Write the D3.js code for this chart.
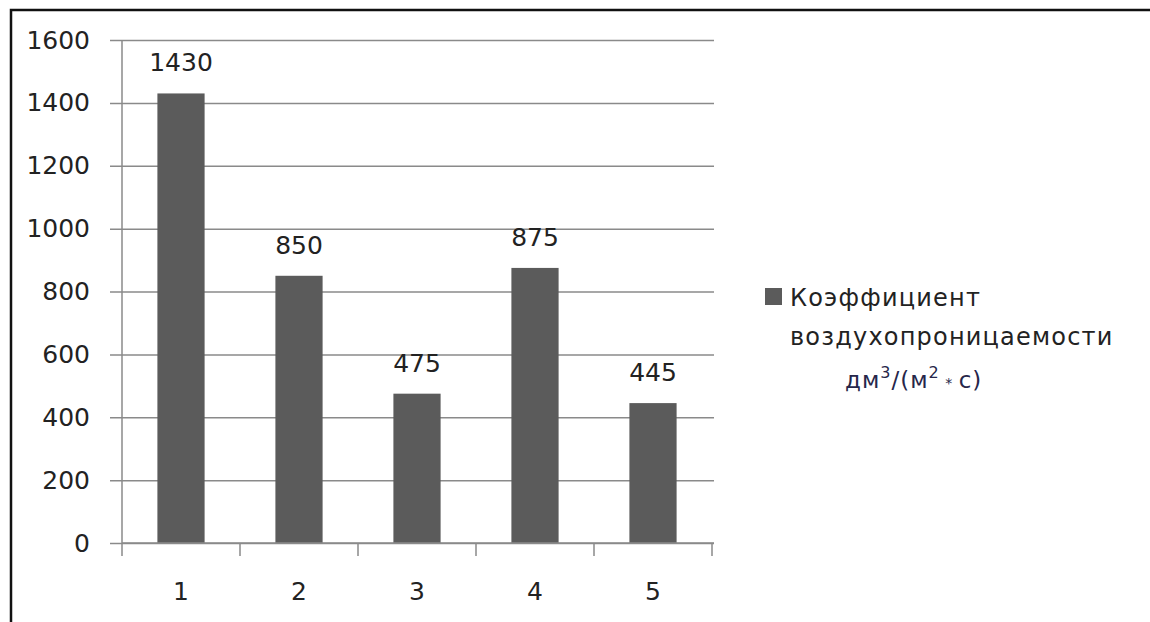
<!DOCTYPE html>
<meta charset="utf-8">
<script src="https://d3js.org/d3.v7.min.js"></script>
<style>
	body { margin: 0; background: #fff; }
	text { font-family: "DejaVu Sans", Verdana, sans-serif; }
</style>
<div id="my_dataviz"></div>
<script>
	// Chart data
	var categories = ["1", "2", "3", "4", "5"];
	var values = [1430, 850, 475, 875, 445];
	var y_ticks = [0, 200, 400, 600, 800, 1000, 1200, 1400, 1600];
	var legend_lines = ["Коэффициент", "воздухопроницаемости"];

	var width = 1150, height = 622;
	var margin = {left: 122, right: 438, top: 40, bottom: 79};

	var svg = d3.select("#my_dataviz")
		.append("svg")
		.attr("width", width)
		.attr("height", height);

	// Outer frame (top and left only are visible)
	svg.append("path")
		.attr("d", "M11," + height + " L11,10 L" + width + ",10")
		.attr("fill", "none")
		.attr("stroke", "#111")
		.attr("stroke-width", 2.5);

	var x = d3.scaleBand()
		.domain(categories)
		.range([margin.left, width - margin.right])
		.paddingInner(0.6)
		.paddingOuter(0.3);

	var y = d3.scaleLinear()
		.domain([0, 1600])
		.range([height - margin.bottom, margin.top]);

	// Gridlines + y ticks
	svg.append("g")
		.attr("transform", "translate(" + margin.left + ",0)")
		.call(d3.axisLeft(y)
			.tickValues(y_ticks)
			.tickFormat(d3.format("d"))
			.tickSize(-(width - margin.right - margin.left + 2))
			.tickSizeOuter(0)
			.tickPadding(32))
		.call(g => g.select(".domain").remove())
		.call(g => g.selectAll(".tick line")
			.attr("x1", -12)
			.attr("stroke", "#8a8a8a")
			.attr("stroke-width", 1.5))
		.call(g => g.selectAll(".tick text")
			.attr("fill", "#222")
			.attr("font-size", 25));

	// Y axis line
	svg.append("line")
		.attr("x1", margin.left).attr("x2", margin.left)
		.attr("y1", y(1600)).attr("y2", y(0))
		.attr("stroke", "#8a8a8a")
		.attr("stroke-width", 1.5);

	// Bars
	svg.append("g")
		.selectAll("rect")
		.data(values)
		.join("rect")
		.attr("x", (d, i) => x(categories[i]))
		.attr("width", x.bandwidth())
		.attr("y", d => y(d))
		.attr("height", d => y(0) - y(d))
		.attr("fill", "#5b5b5b");

	// Value labels
	svg.append("g")
		.selectAll("text")
		.data(values)
		.join("text")
		.attr("x", (d, i) => x(categories[i]) + x.bandwidth() / 2)
		.attr("y", d => y(d) - 22)
		.attr("text-anchor", "middle")
		.attr("font-size", 25)
		.attr("fill", "#222")
		.text(d => d);

	// X axis with ticks between categories
	var x_axis = svg.append("g");
	x_axis.append("line")
		.attr("x1", margin.left).attr("x2", width - margin.right + 2)
		.attr("y1", y(0)).attr("y2", y(0))
		.attr("stroke", "#8a8a8a")
		.attr("stroke-width", 1.5);
	x_axis.selectAll(".sep")
		.data(d3.range(categories.length + 1))
		.join("line")
		.attr("class", "sep")
		.attr("x1", i => margin.left + i * (width - margin.right - margin.left) / categories.length)
		.attr("x2", i => margin.left + i * (width - margin.right - margin.left) / categories.length)
		.attr("y1", y(0)).attr("y2", y(0) + 13)
		.attr("stroke", "#8a8a8a")
		.attr("stroke-width", 1.5);
	x_axis.selectAll(".lbl")
		.data(categories)
		.join("text")
		.attr("class", "lbl")
		.attr("x", d => x(d) + x.bandwidth() / 2)
		.attr("y", y(0) + 57)
		.attr("text-anchor", "middle")
		.attr("font-size", 25)
		.attr("fill", "#222")
		.text(d => d);

	// Legend
	var legend = svg.append("g");
	legend.append("rect")
		.attr("x", 765).attr("y", 288)
		.attr("width", 17).attr("height", 17)
		.attr("fill", "#5b5b5b");
	legend.selectAll(".leg")
		.data(legend_lines)
		.join("text")
		.attr("class", "leg")
		.attr("x", 790)
		.attr("y", (d, i) => 306 + i * 39)
		.attr("font-size", 24)
		.attr("letter-spacing", 1.2)
		.attr("fill", "#222")
		.text(d => d);
	var unit = legend.append("text")
		.attr("x", 845)
		.attr("y", 388)
		.attr("font-size", 23)
		.attr("letter-spacing", 1)
		.attr("fill", "#26264a");
	unit.append("tspan").text("дм");
	unit.append("tspan").attr("dy", -10).attr("font-size", 16).text("3");
	unit.append("tspan").attr("dy", 10).text("/(м");
	unit.append("tspan").attr("dy", -10).attr("font-size", 16).text("2");
	unit.append("tspan").attr("dy", 10).attr("font-size", 14).text(" * ");
	unit.append("tspan").text("с)");
</script>
